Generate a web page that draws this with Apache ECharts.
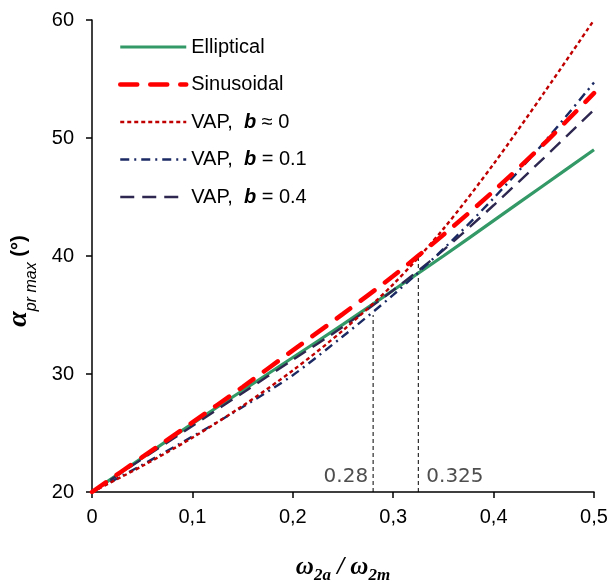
<!DOCTYPE html>
<html>
<head>
<meta charset="utf-8">
<script src="https://cdn.jsdelivr.net/npm/echarts@6/dist/echarts.min.js"></script>
<style>
  html, body { margin: 0; padding: 0; background: #fff; }
  #chart { width: 612px; height: 582px; }
</style>
</head>
<body>
<div id="chart"></div>
<script>
// Speed ratio on the x axis, maximum pressure angle (degrees) on the y axis
const ratios = [0, 0.05, 0.1, 0.15, 0.2, 0.25, 0.3, 0.35, 0.4, 0.45, 0.5];

const elliptical = [20, 22.9, 25.8, 28.6, 31.4, 34.2, 37.1, 40.0, 43.0, 46.0, 49.0];
const sinusoidal = [20, 22.95, 25.9, 28.9, 32.0, 35.1, 38.3, 41.8, 45.5, 49.5, 53.8];
const vapB0      = [20, 22.2, 24.6, 27.3, 30.3, 33.7, 37.6, 42.3, 47.8, 53.8, 60.0];
const vapB01     = [20, 22.3, 24.7, 27.2, 29.9, 33.2, 36.7, 40.6, 44.9, 49.6, 54.7];
const vapB04     = [20, 22.8, 25.6, 28.4, 31.2, 34.0, 37.1, 40.5, 44.3, 48.3, 52.4];

// Crossing markers: x position, height of the guide line, label text
const markX      = [0.28, 0.325];
const markTop    = [35.0, 39.9];
const markLabels = ['0.28', '0.325'];

const yTicks = [20, 30, 40, 50, 60];
const xTicks = ['0', '0,1', '0,2', '0,3', '0,4', '0,5'];

const pairs = vals => ratios.map((x, i) => [x, vals[i]]);

const curve = (name, vals, color, width, dash, cap, z) => ({
  name, type: 'line', data: pairs(vals), symbol: 'none',
  smooth: 0.3, z,
  lineStyle: { color, width, type: dash, cap },
  itemStyle: { color },
  emphasis: { disabled: true }
});

const guide = i => ({
  type: 'line', symbol: 'none', silent: true, z: 1,
  data: [[markX[i], yTicks[0]], [markX[i], markTop[i]]],
  lineStyle: { color: '#000', width: 1, type: [4, 3] }
});

const tag = i => ({
  type: 'scatter', symbolSize: 0.01, silent: true,
  data: [[markX[i], yTicks[0]]],
  label: {
    show: true, formatter: markLabels[i],
    position: i === 0 ? 'left' : 'right', distance: i === 0 ? 5 : 8,
    offset: [0, -15],
    fontFamily: 'DejaVu Sans', fontSize: 20, color: '#222'
  }
});

const chart = echarts.init(document.getElementById('chart'), null, { renderer: 'canvas' });

const sans = 'Liberation Sans';
const serif = 'Liberation Serif';

chart.setOption({
  animation: false,
  backgroundColor: '#fff',
  grid: { left: 92, right: 18, top: 20, bottom: 90, containLabel: false, outerBoundsMode: 'none' },
  legend: {
    orient: 'vertical', left: 113, top: 32,
    itemWidth: 66, itemHeight: 20, itemGap: 17.5,
    itemStyle: { opacity: 0, borderWidth: 0 },
    lineStyle: { width: 'inherit' },
    data: ['Elliptical', 'Sinusoidal', 'VAP0', 'VAP01', 'VAP04'],
    formatter: n => ({
      Elliptical: 'Elliptical',
      Sinusoidal: 'Sinusoidal',
      VAP0: '{n|VAP,  }{b|b}{n| ≈ 0}',
      VAP01: '{n|VAP,  }{b|b}{n| = 0.1}',
      VAP04: '{n|VAP,  }{b|b}{n| = 0.4}'
    })[n],
    textStyle: {
      fontFamily: sans, fontSize: 20, color: '#000', lineHeight: 20,
      rich: {
        n: { fontFamily: sans, fontSize: 20, color: '#000' },
        b: { fontFamily: sans, fontSize: 20, fontStyle: 'italic', fontWeight: 'bold', color: '#000' }
      }
    },
    selectedMode: false
  },
  xAxis: {
    type: 'value', min: 0, max: 0.5, interval: 0.1,
    name: '{w|ω}{s|2a}{w| / ω}{s|2m}',
    nameLocation: 'middle', nameGap: 62,
    nameTextStyle: {
      rich: {
        w: { fontFamily: serif, fontSize: 25, fontStyle: 'italic', fontWeight: 'bold', color: '#000', lineHeight: 28 },
        s: { fontFamily: serif, fontSize: 17, fontStyle: 'italic', fontWeight: 'bold', color: '#000',
             verticalAlign: 'bottom', lineHeight: 28, padding: [0, 0, -2, 0] }
      }
    },
    axisLine: { lineStyle: { color: '#000', width: 1.5 } },
    axisTick: { show: true, length: 6, lineStyle: { color: '#000', width: 1.5 } },
    axisLabel: {
      margin: 15, fontFamily: sans, fontSize: 20, color: '#000',
      formatter: (v) => xTicks[Math.round(v * 10)]
    },
    splitLine: { show: false }
  },
  yAxis: {
    type: 'value', min: yTicks[0], max: yTicks[yTicks.length - 1], interval: 10,
    name: '{a|α}{s|pr max}{d| (°)}',
    nameLocation: 'middle', nameGap: 58, nameRotate: 90,
    nameTextStyle: {
      padding: [0, 50, 0, 0],
      rich: {
        a: { fontFamily: serif, fontSize: 28, fontStyle: 'italic', fontWeight: 'bold', color: '#000', lineHeight: 30 },
        s: { fontFamily: sans, fontSize: 16, fontStyle: 'italic', color: '#000',
             verticalAlign: 'bottom', lineHeight: 30, padding: [0, 0, -6, 0] },
        d: { fontFamily: sans, fontSize: 20, fontWeight: 'bold', color: '#000', lineHeight: 30 }
      }
    },
    axisLine: { show: true, lineStyle: { color: '#000', width: 1.5 } },
    axisTick: { show: true, length: 6, lineStyle: { color: '#000', width: 1.5 } },
    axisLabel: { margin: 18, fontFamily: sans, fontSize: 20, color: '#000' },
    splitLine: { show: false }
  },
  series: [
    curve('Elliptical', elliptical, '#339966', 3.2, 'solid', 'butt', 3),
    curve('VAP04', vapB04, '#2E2850', 2.4, [14, 8], 'butt', 4),
    curve('VAP01', vapB01, '#1C2A64', 2.4, [9, 5, 2, 5], 'butt', 5),
    curve('VAP0', vapB0, '#C00000', 2.4, [4, 3], 'butt', 6),
    curve('Sinusoidal', sinusoidal, '#FF0000', 4.5, [17, 13], 'round', 7),
    guide(0), guide(1), tag(0), tag(1)
  ]
});
</script>
</body>
</html>
